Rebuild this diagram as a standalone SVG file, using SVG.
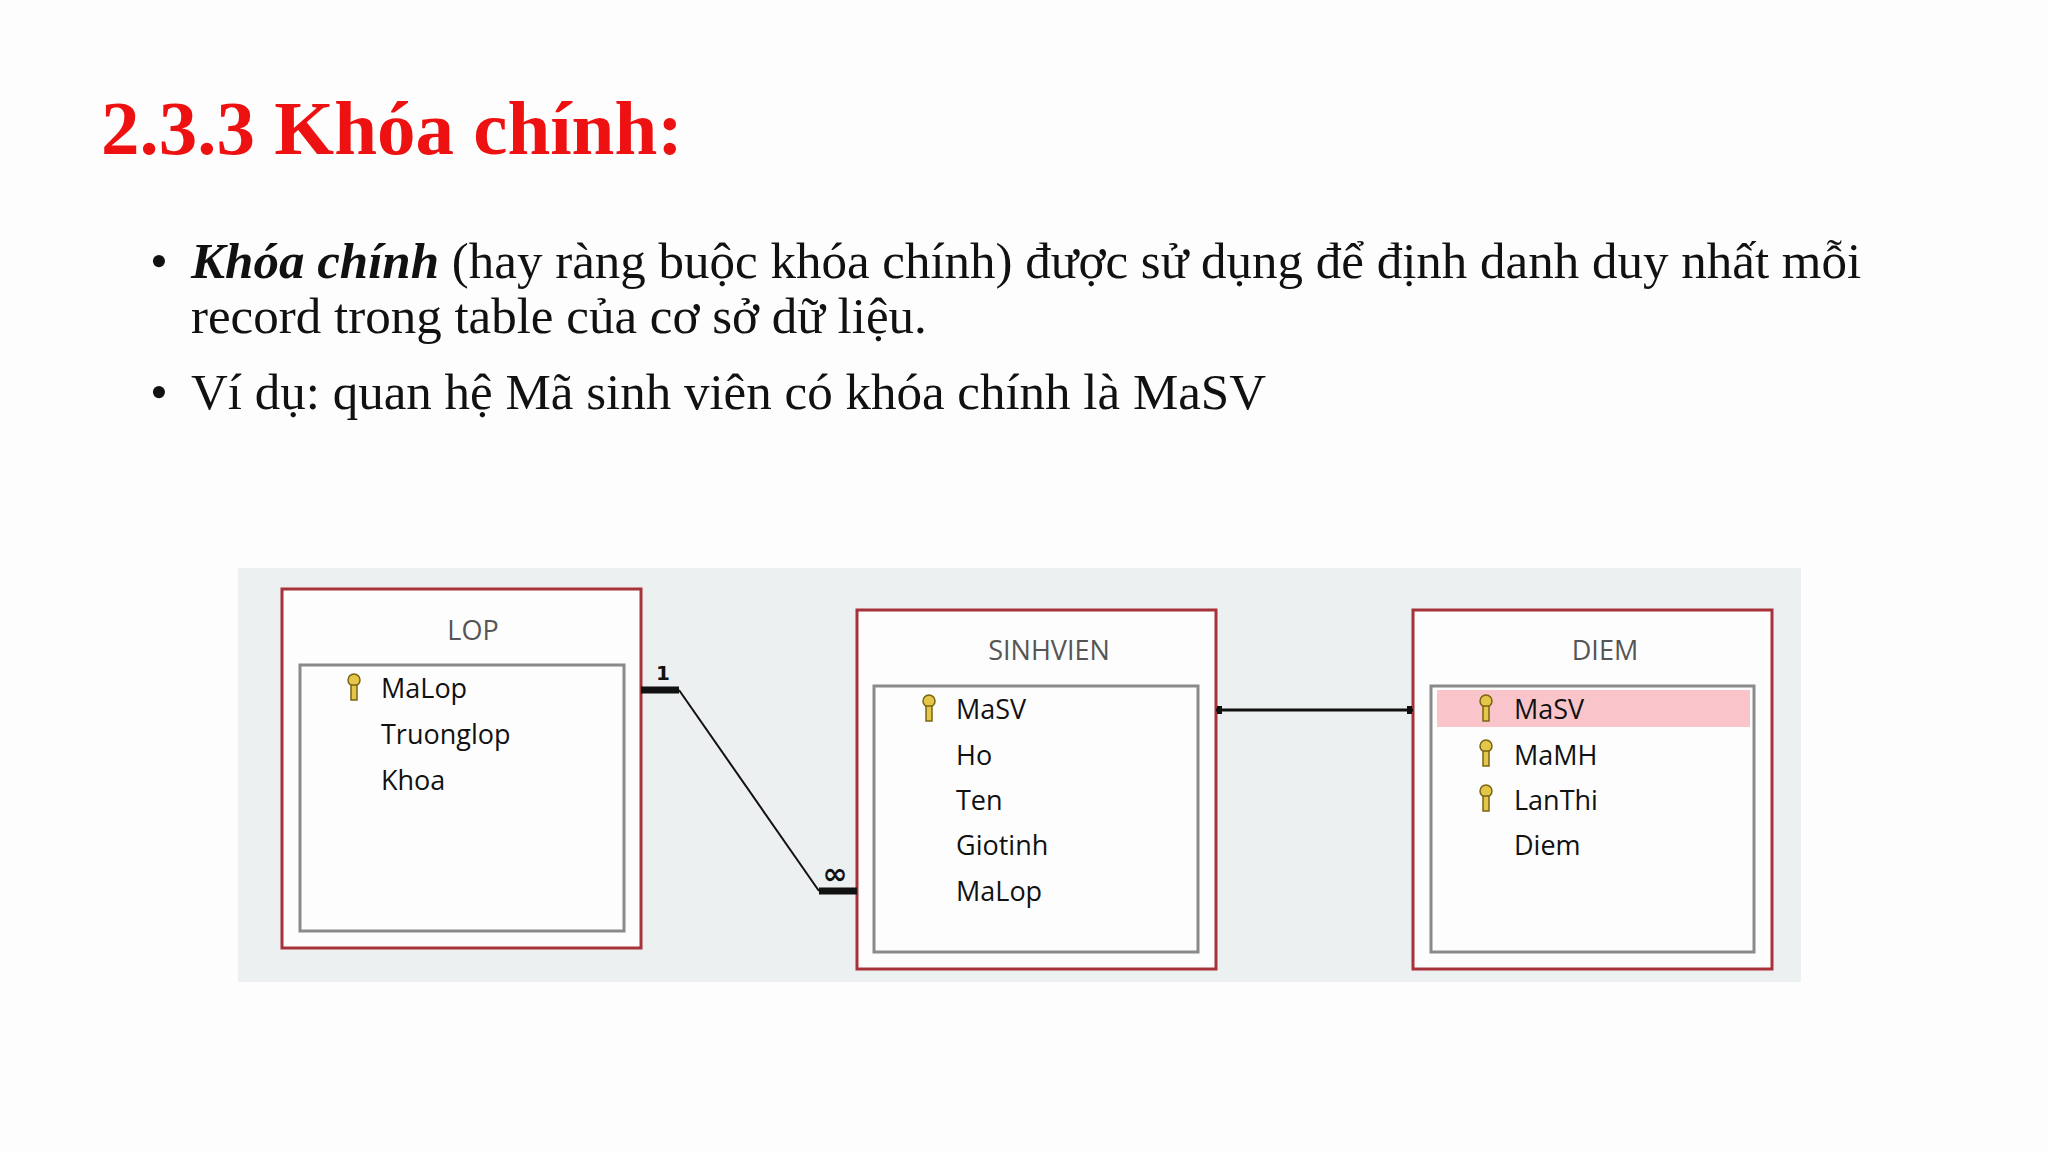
<svg xmlns="http://www.w3.org/2000/svg" width="2048" height="1152" viewBox="0 0 2048 1152">
<style>
.t{font-family:"Liberation Serif",serif;fill:#111;font-size:51px}
.outer{fill:#fdfdfd;stroke:#a8323a;stroke-width:3}
.inner{fill:#fdfdfd;stroke:#8a8a8a;stroke-width:3}
.title{font-family:"Open Sans","DejaVu Sans",sans-serif;font-size:27px;fill:#555;text-anchor:middle}
.f{font-family:"Open Sans","DejaVu Sans",sans-serif;font-size:27px;fill:#111}
.key{fill:#e3c64a;stroke:#7a6410;stroke-width:1.5}
.ln{stroke:#111;fill:none}
</style>
<defs>
<g id="k"><circle class="key" cx="0" cy="-8" r="6"/><rect class="key" x="-3" y="-3" width="6" height="15"/></g>
</defs>
<rect width="2048" height="1152" fill="#fdfdfd"/>
<text x="101" y="154" font-family="Liberation Serif,serif" font-weight="bold" font-size="77" fill="#ee1111">2.3.3 Khóa chính:</text>
<text x="150" y="278" class="t">•</text>
<text x="191" y="278" class="t"><tspan font-weight="bold" font-style="italic">Khóa chính</tspan> (hay ràng buộc khóa chính) được sử dụng để định danh duy nhất mỗi</text>
<text x="191" y="333" class="t">record trong table của cơ sở dữ liệu.</text>
<text x="150" y="409" class="t">•</text>
<text x="191" y="409" class="t">Ví dụ: quan hệ Mã sinh viên có khóa chính là MaSV</text>
<rect x="238" y="568" width="1563" height="414" fill="#ecf0f1"/>
<g id="LOP">
<rect class="outer" x="282" y="589" width="359" height="359"/>
<text class="title" x="473" y="640">LOP</text>
<rect class="inner" x="300" y="665" width="324" height="266"/>
<use href="#k" x="354" y="688"/>
<text class="f" x="381" y="698">MaLop</text>
<text class="f" x="381" y="744">Truonglop</text>
<text class="f" x="381" y="790">Khoa</text>
</g>
<g id="SINHVIEN">
<rect class="outer" x="857" y="610" width="359" height="359"/>
<text class="title" x="1049" y="660">SINHVIEN</text>
<rect class="inner" x="874" y="686" width="324" height="266"/>
<use href="#k" x="929" y="709"/>
<text class="f" x="956" y="719">MaSV</text>
<text class="f" x="956" y="765">Ho</text>
<text class="f" x="956" y="810">Ten</text>
<text class="f" x="956" y="855">Giotinh</text>
<text class="f" x="956" y="901">MaLop</text>
</g>
<g id="DIEM">
<rect class="outer" x="1413" y="610" width="359" height="359"/>
<text class="title" x="1605" y="660">DIEM</text>
<rect class="inner" x="1431" y="686" width="323" height="266"/>
<rect x="1437" y="690" width="313" height="37" fill="#f9c5ca"/>
<use href="#k" x="1486" y="709"/>
<use href="#k" x="1486" y="754"/>
<use href="#k" x="1486" y="799"/>
<text class="f" x="1514" y="719" fill="#444">MaSV</text>
<text class="f" x="1514" y="765">MaMH</text>
<text class="f" x="1514" y="810">LanThi</text>
<text class="f" x="1514" y="855">Diem</text>
</g>
<g id="connectors">
<line class="ln" x1="641" y1="690" x2="679" y2="690" stroke-width="7"/>
<line class="ln" x1="679" y1="690" x2="819" y2="891" stroke-width="2"/>
<line class="ln" x1="819" y1="891" x2="857" y2="891" stroke-width="7"/>
<text x="663" y="680" font-family="DejaVu Sans,sans-serif" font-weight="bold" font-size="20" fill="#111" text-anchor="middle">1</text>
<text x="835" y="884" font-family="DejaVu Sans,sans-serif" font-weight="bold" font-size="30" fill="#111" text-anchor="middle">∞</text>
<line class="ln" x1="1216" y1="710" x2="1413" y2="710" stroke-width="3"/>
<rect x="1217" y="706" width="5" height="8" fill="#111"/>
<rect x="1407" y="706" width="5" height="8" fill="#111"/>
</g>
</svg>
